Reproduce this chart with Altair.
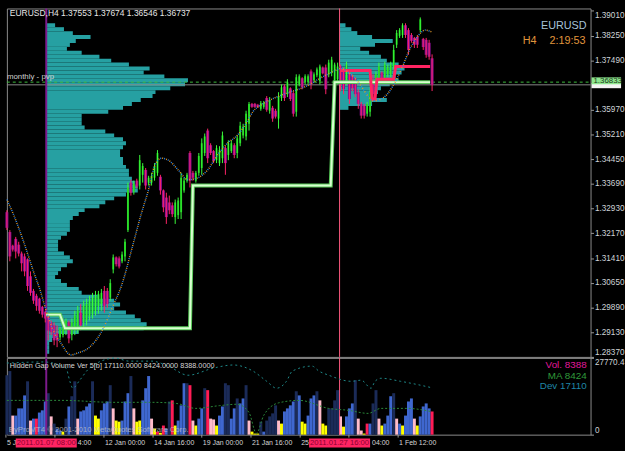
import altair as alt
import numpy as np
import pandas as pd

FONT_N = "Liberation Sans Narrow, Liberation Sans, Arial, sans-serif"
FONT = "Liberation Sans, Arial, sans-serif"

# ---------------- data ----------------
OPEN = [1.3282,1.3221,1.3179,1.3200,1.3182,1.3155,1.3146,1.3137,1.3085,1.3040,
        1.3025,1.3016,1.2991,1.2976,1.2964,1.2943,1.2934,1.2910,1.2897,1.2904,
        1.2919,1.2943,1.2904,1.2919,1.2931,1.2973,1.2943,1.2949,1.2961,1.2970,
        1.2979,1.2994,1.3000,1.3040,1.3040,1.3019,1.3106,1.3143,1.3140,1.3131,
        1.3146,1.3227,1.3373,1.3345,1.3379,1.3364,1.3397,1.3412,1.3373,1.3373,
        1.3388,1.3403,1.3391,1.3349,1.3327,1.3312,1.3303,1.3267,1.3273,1.3282,
        1.3349,1.3379,1.3464,1.3403,1.3379,1.3403,1.3418,1.3464,1.3533,1.3488,
        1.3470,1.3442,1.3433,1.3448,1.3479,1.3458,1.3470,1.3488,1.3464,1.3494,
        1.3518,1.3515,1.3554,1.3615,1.3615,1.3612,1.3600,1.3606,1.3633,1.3594,
        1.3603,1.3594,1.3570,1.3633,1.3669,1.3645,1.3663,1.3648,1.3591,1.3675,
        1.3694,1.3682,1.3682,1.3715,1.3688,1.3703,1.3685,1.3727,1.3727,1.3706,
        1.3712,1.3688,1.3691,1.3730,1.3721,1.3688,1.3706,1.3700,1.3691,1.3651,
        1.3615,1.3609,1.3585,1.3591,1.3675,1.3660,1.3691,1.3712,1.3694,1.3706,
        1.3706,1.3730,1.3797,1.3824,1.3827,1.3857,1.3842,1.3827,1.3818,1.3821,
        1.3842,1.3815,1.3812,1.3803,1.37553]
HIGH = [1.3288,1.3227,1.3182,1.3206,1.3191,1.3161,1.3155,1.3140,1.3100,1.3046,
        1.3031,1.3019,1.2994,1.2979,1.2970,1.2949,1.2943,1.2934,1.2928,1.2931,
        1.2955,1.2949,1.2955,1.2979,1.2994,1.3000,1.3010,1.3016,1.3025,1.3034,
        1.3040,1.3040,1.3046,1.3055,1.3049,1.3076,1.3152,1.3146,1.3146,1.3161,
        1.3200,1.3373,1.3382,1.3379,1.3385,1.3458,1.3433,1.3418,1.3394,1.3403,
        1.3433,1.3473,1.3397,1.3352,1.3342,1.3333,1.3312,1.3321,1.3327,1.3403,
        1.3388,1.3403,1.3470,1.3409,1.3409,1.3464,1.3509,1.3524,1.3539,1.3494,
        1.3473,1.3488,1.3485,1.3530,1.3485,1.3503,1.3503,1.3494,1.3518,1.3560,
        1.3554,1.3594,1.3621,1.3618,1.3618,1.3615,1.3624,1.3624,1.3639,1.3636,
        1.3609,1.3600,1.3651,1.3675,1.3675,1.3691,1.3666,1.3654,1.3706,1.3706,
        1.3697,1.3706,1.3706,1.3721,1.3712,1.3727,1.3736,1.3730,1.3736,1.3751,
        1.3760,1.3742,1.3742,1.3736,1.3727,1.3745,1.3715,1.3706,1.3697,1.3660,
        1.3621,1.3615,1.3621,1.3666,1.3706,1.3715,1.3742,1.3715,1.3745,1.3736,
        1.3745,1.3797,1.3842,1.3848,1.3863,1.3863,1.3848,1.3833,1.3821,1.3827,
        1.3881,1.3818,1.3818,1.3812,1.37674]
LOW = [1.3227,1.3131,1.3161,1.3140,1.3146,1.3100,1.3085,1.3040,1.3025,1.3000,
       1.2979,1.2970,1.2958,1.2943,1.2888,1.2904,1.2873,1.2867,1.2888,1.2897,
       1.2904,1.2879,1.2888,1.2904,1.2910,1.2919,1.2928,1.2934,1.2949,1.2955,
       1.2964,1.2970,1.2979,1.2973,1.2988,1.3010,1.3094,1.3115,1.3109,1.3125,
       1.3131,1.3221,1.3333,1.3336,1.3355,1.3352,1.3373,1.3352,1.3364,1.3364,
       1.3379,1.3394,1.3336,1.3282,1.3246,1.3276,1.3267,1.3246,1.3261,1.3261,
       1.3342,1.3373,1.3358,1.3379,1.3373,1.3394,1.3397,1.3455,1.3433,1.3458,
       1.3433,1.3433,1.3424,1.3433,1.3397,1.3442,1.3464,1.3448,1.3448,1.3485,
       1.3509,1.3503,1.3533,1.3603,1.3603,1.3603,1.3594,1.3600,1.3591,1.3585,
       1.3560,1.3570,1.3539,1.3624,1.3624,1.3636,1.3624,1.3576,1.3576,1.3669,
       1.3660,1.3675,1.3675,1.3660,1.3682,1.3697,1.3675,1.3706,1.3645,1.3697,
       1.3700,1.3675,1.3675,1.3654,1.3645,1.3675,1.3615,1.3654,1.3636,1.3600,
       1.3570,1.3570,1.3576,1.3576,1.3624,1.3654,1.3682,1.3682,1.3685,1.3697,
       1.3697,1.3721,1.3787,1.3818,1.3818,1.3818,1.3766,1.3803,1.3787,1.3787,
       1.3836,1.3781,1.3757,1.3751,1.36546]
CLOSE = [1.3234,1.3146,1.3167,1.3161,1.3155,1.3125,1.3100,1.3055,1.3034,1.3010,
         1.2994,1.2979,1.2967,1.2955,1.2919,1.2913,1.2888,1.2888,1.2925,1.2925,
         1.2949,1.2894,1.2943,1.2964,1.2979,1.2934,1.2994,1.3000,1.3010,1.3019,
         1.3025,1.3031,1.3034,1.2994,1.3000,1.3064,1.3143,1.3122,1.3115,1.3152,
         1.3191,1.3358,1.3342,1.3370,1.3361,1.3442,1.3424,1.3364,1.3388,1.3394,
         1.3424,1.3464,1.3349,1.3297,1.3267,1.3288,1.3276,1.3312,1.3318,1.3388,
         1.3379,1.3397,1.3379,1.3388,1.3403,1.3455,1.3494,1.3515,1.3448,1.3464,
         1.3439,1.3479,1.3473,1.3518,1.3433,1.3494,1.3494,1.3458,1.3509,1.3548,
         1.3545,1.3585,1.3615,1.3606,1.3606,1.3606,1.3618,1.3618,1.3597,1.3627,
         1.3570,1.3576,1.3639,1.3666,1.3633,1.3682,1.3630,1.3585,1.3697,1.3700,
         1.3666,1.3700,1.3700,1.3675,1.3706,1.3721,1.3730,1.3709,1.3660,1.3742,
         1.3751,1.3736,1.3730,1.3675,1.3660,1.3736,1.3630,1.3663,1.3645,1.3615,
         1.3579,1.3579,1.3615,1.3651,1.3645,1.3706,1.3730,1.3688,1.3736,1.3727,
         1.3736,1.3781,1.3833,1.3842,1.3857,1.3827,1.3781,1.3809,1.3797,1.3797,
         1.3875,1.3790,1.3766,1.3760,1.36737]

VOLUME = [21500,23000,6900,6900,9500,9500,14200,19300,5100,5800,
          5800,8000,8800,12000,15000,6600,4000,2200,1500,1100,
          5800,10200,13900,19300,5800,8400,8800,10200,11300,19300,
          6900,5800,8800,11300,12000,17900,9500,5100,4700,5100,
          12000,15000,21200,9500,4700,5100,12400,16800,21200,5800,
          2200,1100,700,3300,2200,12000,12400,3300,5100,10600,
          18600,18600,17900,5100,3300,5800,9500,16800,16100,5800,
          5500,3300,6900,10200,18600,17900,5800,9500,13100,11300,
          13100,17900,5100,1100,400,400,4700,1100,5100,6600,
          7700,10600,5100,4000,8400,9500,10600,12000,15700,14200,
          4700,4000,6900,13100,14200,15700,12400,4000,3300,9500,
          9500,12400,16100,6600,2900,6600,9500,11300,19700,5800,
          1500,400,4000,4000,11300,16100,5800,3300,4000,6900,
          13900,15000,5800,4000,3300,6900,12000,13100,5800,3300,
          6600,10200,11300,9500,8388]
VOL_KIND = list("NNPBBBBNPBRBBBNPNBBY" "NBNNPBBBBNYYBBBNPYYB" "BBNPYYBBBPYRYRBNRYBB"
                "BNRPYBBNRPPYBBNNBBNB" "BNPYYYNBNNNNPYBBBBNB" "YYBBBNPYYNNNNPYBBBNP"
                "PYRBNNPYBBBNPBYBBBPY" "BBBBR")

# volume-profile bar counts per price row (rows 0.00121 apart, from 1.3857 down)
PROF_TOP = 1.3857
PROF_STEP = 0.00121
LEFT_PROFILE = [3,6,9,15,10,8,7,12,18,22,28,35,33,40,48,47,42,37,36,32,
                29,26,21,12,12,12,13,20,23,26,27,26,25,25,26,26,27,28,28,29,
                30,31,31,27,23,20,18,13,11,9,8,8,8,7,5,4,4,4,6,8,
                9,7,5,4,3,5,7,11,12,18,23,25,23,27,30,32,34,33,11,4,
                2,1,1,1]
RIGHT_PROFILE = [2,4,6,11,18,12,7,10,14,16,20,22,21,19,20,17,14,13,11,16,11,3]
LEFT_START = 13.33      # bar index of 2011.01.07 08:00
RIGHT_START = 112.67    # bar index of 2011.01.27 16:00

MA_X = [0,2.33,5.67,9,11.33,13,15.67,18.33,21.67,24,28,32.33,35.67,39,42.33,45.67,48,50,
        52.33,54.67,58,61.33,64.67,68,71.33,74.67,78,81.33,83.33,86.67,91.33,95.67,101.33,
        106.67,110.67,113,115.67,119,122.33,124,127.33,130.67,134,136.33,139,141.67,144]
MA_Y = [1.3321,1.3273,1.3191,1.3100,1.3040,1.2988,1.2919,1.2879,1.2843,1.2849,1.2867,1.2919,
        1.2988,1.3061,1.3170,1.3282,1.3352,1.3424,1.3448,1.3442,1.3412,1.3382,1.3388,1.3412,
        1.3458,1.3494,1.3518,1.3560,1.3591,1.3615,1.3636,1.3651,1.3669,1.3697,1.3715,1.3724,
        1.3712,1.3682,1.3639,1.3624,1.3633,1.3669,1.3730,1.3781,1.3821,1.3842,1.3836]

PVP_X = [13.33,18,19.67,62,63,109.67,111,143.33]
PVP_Y = [1.2967,1.2967,1.2925,1.2925,1.3364,1.3364,1.3682,1.3682]
WPVP_X = [113,123,123.67,124.67,125.33,131,131.67,143.33]
WPVP_Y = [1.3718,1.3718,1.3630,1.3630,1.3691,1.3691,1.3730,1.3730]

DEV_X = [0,12.33,20,21.33,22.33,24.67,28,36.67,41.33,49,54.67,61.33,70,76.67,83.33,88,91.33,
         94.67,96.67,103.33,105.67,109,116.67,120,123.33,124.67,126.67,133.33,140,143.33]
DEV_V = [25900,26300,24100,19300,16800,19700,24100,27700,26600,26600,24800,21500,24100,25200,
         23000,19300,16800,19300,23000,24800,23000,21500,19300,19700,16800,19300,20400,19300,
         17900,17110]
VMA_X = [0,19,35.67,49,57.33,64,72,78,82,84.5,87,92,99,109,115.67,122.33,126.67,135.67,143.33]
VMA_V = [12400,12400,11700,11700,11300,9500,10500,11000,8000,500,7000,11500,12400,9500,8800,
         7700,9500,9500,8424]

PVP_LEVEL = 1.3682
BID = 1.36737
Y_TICKS = [1.3901,1.3825,1.3749,1.3597,1.3521,1.3445,1.3369,1.3293,1.3217,1.3141,
           1.3065,1.2989,1.2913,1.2837]
VOL_MAX = 27770.4
# time-axis ticks (bar index) and the parts of their labels left visible by the cursor boxes
X_TICK_POS = [-0.33,16.27,32.87,49.5,66,82.67,99.33,115.83,132.5]
X_LAB_POS = [-0.33,23.67,32.87,49.5,66,82.67,99.33,123.33,132.5]
X_LAB = ["5 J","4:00","12 Jan 00:00","14 Jan 16:00","19 Jan 00:00",
         "21 Jan 16:00","25","04:00","1 Feb 12:00"]
MARKERS = [LEFT_START, RIGHT_START]
MARKER_LAB = ["2011.01.07 08:00", "2011.01.27 16:00"]

# ---------------- layout ----------------
W, H_MAIN, H_VOL = 593, 354, 78
PX_PER_BAR = 3.0
X_MAX = W / PX_PER_BAR
xs = alt.Scale(domain=[0, X_MAX], nice=False, zero=False)
ys = alt.Scale(domain=[1.2837, 1.39085], nice=False, zero=False)
vs = alt.Scale(domain=[0, VOL_MAX], nice=False, zero=False)

ax_main = alt.Axis(orient="right", values=Y_TICKS, format=".5f", labelFont=FONT_N,
                   labelFontSize=8.3, labelColor="#cfd4d8", tickColor="#9a9a9a", tickSize=3,
                   labelPadding=1, domain=False, grid=False, title=None, labelFlush=4)
ax_vol = alt.Axis(orient="right", values=[0, VOL_MAX],
                  labelExpr="datum.value == 0 ? '0' : '27770.4'", labelFont=FONT_N,
                  labelFontSize=8.3, labelColor="#cfd4d8", tickColor="#9a9a9a", tickSize=3,
                  labelPadding=1, domain=False, grid=False, title=None, labelFlush=4)
X = lambda f: alt.X(f, scale=xs, axis=None)
Y = lambda f: alt.Y(f, scale=ys, axis=ax_main)
V = lambda f: alt.Y(f, scale=vs, axis=ax_vol)


def txt(s, x, y, color, size, font=FONT_N, align="left", opacity=1.0):
    return alt.Chart(pd.DataFrame({"t": [s]})).mark_text(
        align=align, baseline="middle", font=font, fontSize=size, color=color,
        opacity=opacity).encode(x=alt.value(x), y=alt.value(y), text="t:N")


# candles
cdf = pd.DataFrame({"i": np.arange(len(OPEN)), "o": OPEN, "h": HIGH, "l": LOW, "c": CLOSE})
up = cdf[cdf.c >= cdf.o]
dn = cdf[cdf.c < cdf.o]

def profile(counts, start):
    n = np.array(counts, dtype=float)
    p = PROF_TOP - PROF_STEP * np.arange(len(n))
    return pd.DataFrame({"x0": start, "x1": start + n,
                         "p_hi": p + PROF_STEP / 2, "p_lo": p - PROF_STEP / 2})

PROF_COLOR = "#26a0a2"
lp = alt.Chart(profile(LEFT_PROFILE, LEFT_START)).mark_rect(color=PROF_COLOR).encode(
    x=X("x0:Q"), x2="x1", y=Y("p_hi:Q"), y2="p_lo")
rp = alt.Chart(profile(RIGHT_PROFILE, RIGHT_START)).mark_rect(color=PROF_COLOR).encode(
    x=X("x0:Q"), x2="x1", y=Y("p_hi:Q"), y2="p_lo")

pvp_rule = alt.Chart(pd.DataFrame({"p": [PVP_LEVEL]})).mark_rule(
    color="#3fbf3f", strokeDash=[3, 3], strokeWidth=1).encode(
    y=Y("p:Q"), x=alt.value(0), x2=alt.value(W))
bid_rule = alt.Chart(pd.DataFrame({"p": [BID]})).mark_rule(color="#8a8a8a", strokeWidth=1).encode(
    y=Y("p:Q"), x=alt.value(0), x2=alt.value(W))

vl_purple = alt.Chart(pd.DataFrame({"i": [LEFT_START]})).mark_rule(color="#7d1a8c", strokeWidth=2)
vl_pink = alt.Chart(pd.DataFrame({"i": [RIGHT_START]})).mark_rule(color="#ff5a80", strokeWidth=1)

body_up = alt.Chart(up).mark_rule(color="#14b414", strokeWidth=2).encode(x=X("i:Q"), y=Y("o:Q"), y2="c")
wick_up = alt.Chart(up).mark_rule(color="#3cff3c", strokeWidth=1).encode(x=X("i:Q"), y=Y("h:Q"), y2="l")
body_dn = alt.Chart(dn).mark_rule(color="#8a0f92", strokeWidth=3).encode(x=X("i:Q"), y=Y("o:Q"), y2="c")
wick_dn = alt.Chart(dn).mark_rule(color="#ff2468", strokeWidth=1).encode(x=X("i:Q"), y=Y("h:Q"), y2="l")

pvp_df = pd.DataFrame({"i": PVP_X, "p": PVP_Y, "k": range(len(PVP_X))})
pvp_outer = alt.Chart(pvp_df).mark_line(color="#58c858", strokeWidth=4).encode(
    x=X("i:Q"), y=Y("p:Q"), order="k:Q")
pvp_inner = alt.Chart(pvp_df).mark_line(color="#d8ffd0", strokeWidth=2).encode(
    x=X("i:Q"), y=Y("p:Q"), order="k:Q")
w_df = pd.DataFrame({"i": WPVP_X, "p": WPVP_Y, "k": range(len(WPVP_X))})
wpvp = alt.Chart(w_df).mark_line(color="#ff2462", strokeWidth=3).encode(
    x=X("i:Q"), y=Y("p:Q"), order="k:Q")

ma_df = pd.DataFrame({"i": MA_X, "p": MA_Y})
ma_a = alt.Chart(ma_df).mark_line(color="#2f86e8", strokeWidth=1.5, strokeDash=[1, 3],
                                  interpolate="monotone").encode(x=X("i:Q"), y=Y("p:Q"))
ma_b = alt.Chart(ma_df).mark_line(color="#e09a2c", strokeWidth=1.5, strokeDash=[1, 3],
                                  strokeDashOffset=2, interpolate="monotone").encode(
    x=X("i:Q"), y=Y("p:Q"))

box_white = alt.Chart(pd.DataFrame({"a": [0]})).mark_rect(color="#f4f4f4").encode(
    x=alt.value(594), x2=alt.value(624), y=alt.value(76), y2=alt.value(81))
box_green = alt.Chart(pd.DataFrame({"a": [0]})).mark_rect(color="#8ee68e").encode(
    x=alt.value(594), x2=alt.value(624), y=alt.value(70), y2=alt.value(77))

main = alt.layer(
    lp, rp, bid_rule, pvp_rule,
    vl_purple.encode(x=X("i:Q"), y=alt.value(0), y2=alt.value(H_MAIN)),
    vl_pink.encode(x=X("i:Q"), y=alt.value(0), y2=alt.value(H_MAIN)),
    body_dn, wick_dn, body_up, wick_up,
    pvp_outer, pvp_inner, wpvp, ma_a, ma_b,
    box_white, box_green,
    txt("1.36833", 596, 73.5, "#1a3a1a", 8),
    txt("EURUSD,H4  1.37553 1.37674 1.36546 1.36737", 3, 5, "#e6e6e6", 8.6),
    txt("monthly - pvp", 0, 70, "#cfcfcf", 8),
    txt("EURUSD", 589, 18, "#a6c2d6", 11, font=FONT, align="right"),
    txt("H4", 524, 33, "#e0963c", 11, font=FONT),
    txt("2:19:53", 588, 33, "#e0963c", 11, font=FONT, align="right"),
).properties(width=W, height=H_MAIN)

# ---------------- volume panel ----------------
vdf = pd.DataFrame({"i": np.arange(len(VOLUME)), "v": VOLUME, "k": VOL_KIND, "z": 0})
vdf["x0"] = vdf.i - 0.5
vdf["x1"] = vdf.i + 0.5
vbars = alt.Chart(vdf).mark_rect().encode(
    x=X("x0:Q"), x2="x1", y=V("v:Q"), y2="z",
    color=alt.Color("k:N", legend=None, scale=alt.Scale(
        domain=["N", "B", "P", "Y", "R"],
        range=["#1b2b58", "#3f67cf", "#ffbccb", "#ffff00", "#ff1c55"])))
dev_line = alt.Chart(pd.DataFrame({"i": DEV_X, "v": DEV_V})).mark_line(
    color="#1f8a8a", strokeWidth=1, strokeDash=[2, 3], interpolate="monotone").encode(
    x=X("i:Q"), y=V("v:Q"))
vma_line = alt.Chart(pd.DataFrame({"i": VMA_X, "v": VMA_V})).mark_line(
    color="#2b8a3a", strokeWidth=1, strokeDash=[2, 2], interpolate="monotone").encode(
    x=X("i:Q"), y=V("v:Q"))

xt_rules = alt.Chart(pd.DataFrame({"i": X_TICK_POS})).mark_rule(color="#9a9a9a").encode(
    x=X("i:Q"), y=alt.value(H_VOL), y2=alt.value(H_VOL + 3))
xt_text = alt.Chart(pd.DataFrame({"i": X_LAB_POS, "t": X_LAB})).mark_text(
    align="left", baseline="middle", font=FONT_N, fontSize=7.1, color="#d6d6d6", dx=1).encode(
    x=X("i:Q"), y=alt.value(H_VOL + 9), text="t:N")
mk = pd.DataFrame({"i": MARKERS, "t": MARKER_LAB})
mk["x0"] = mk.i - 31 / PX_PER_BAR
mk["x1"] = mk.i + 31 / PX_PER_BAR
mk_box = alt.Chart(mk).mark_rect(color="#ff2462").encode(
    x=X("x0:Q"), x2="x1", y=alt.value(H_VOL + 4), y2=alt.value(H_VOL + 13))
mk_text = alt.Chart(mk).mark_text(align="center", baseline="middle", font=FONT_N,
                                  fontSize=7.8, color="#8c0030").encode(
    x=X("i:Q"), y=alt.value(H_VOL + 9), text="t:N")

lower = alt.layer(
    vbars,
    vl_purple.encode(x=X("i:Q"), y=alt.value(0), y2=alt.value(H_VOL)),
    vl_pink.encode(x=X("i:Q"), y=alt.value(0), y2=alt.value(H_VOL)),
    dev_line, vma_line,
    txt("Hidden Gap Volume Ver 5[b] 17110.0000 8424.0000 8388.0000", 3, 8, "#d6d6d6", 7.4),
    txt("Vol.  8388", 589, 7, "#e0189c", 10, font=FONT, align="right"),
    txt("MA  8424", 589, 18, "#2f9a3a", 10, font=FONT, align="right"),
    txt("Dev  17110", 589, 29, "#1f86a6", 10, font=FONT, align="right"),
    txt("EyProMT4 \u00a9 2001-2010 MetaQuotes Software Corp.", 2, 73, "#c8c8c8", 7.8, opacity=0.75),
    xt_rules, xt_text, mk_box, mk_text,
).properties(width=W, height=H_VOL)

chart = alt.vconcat(main, lower, spacing=1, bounds="flush").properties(
    background="#000000",
    padding={"left": 3, "top": 3, "right": 0, "bottom": 0},
).configure_view(stroke="#8c8c8c", strokeWidth=1)

chart.save("out.html", embed_options={"renderer": "svg", "actions": False})
